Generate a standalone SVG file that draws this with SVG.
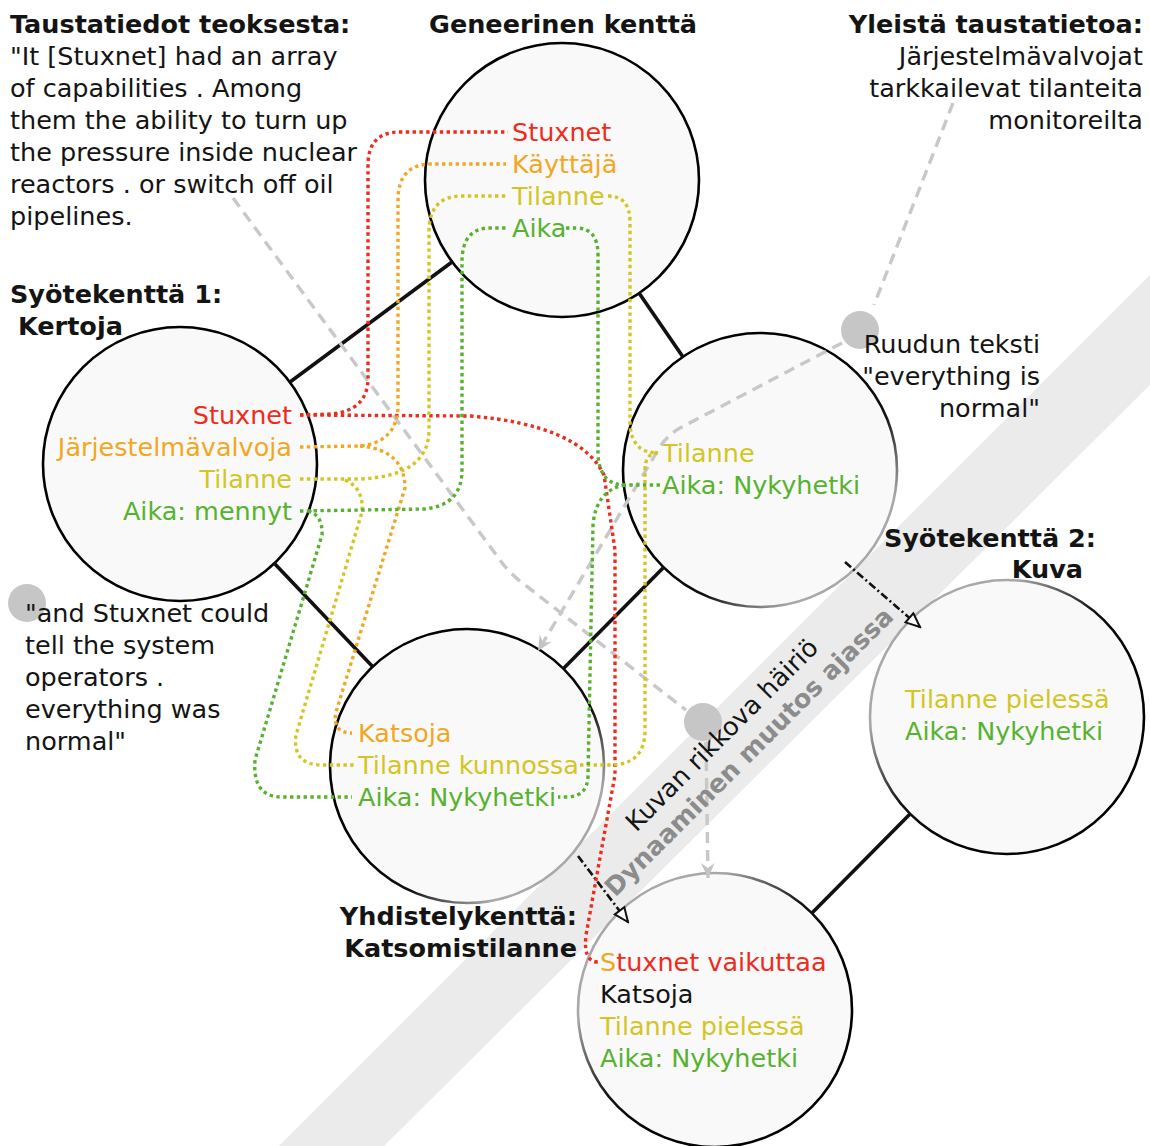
<svg xmlns="http://www.w3.org/2000/svg" width="1150" height="1146" viewBox="0 0 1150 1146">
  <defs>
    <style>
      text { font-family: "DejaVu Sans", "Liberation Sans", sans-serif; font-size: 25.5px; fill: #141414; }
      .b { font-weight: bold; }
      .end { text-anchor: end; }
      .red { fill: #ee2b1c; }
      .org { fill: #f2a723; }
      .yel { fill: #d3c624; }
      .grn { fill: #56b22f; }
      .field { fill: #f9f9f9; stroke: url(#edgeFade); stroke-width: 2.6; }
      .link { stroke: #111; stroke-width: 3.6; fill: none; }
      .dot { fill: none; stroke-width: 3.4; stroke-dasharray: 3.4 3.4; }
      .r { stroke: #ee2b1c; }
      .o { stroke: #f2a723; }
      .y { stroke: #d3c624; }
      .g { stroke: #56b22f; }
      .hint { fill: none; stroke: #c8c8c8; stroke-width: 3.4; stroke-dasharray: 11 7; }
      .spot { fill: #c6c6c6; }
      .shift { fill: none; stroke: #111; stroke-width: 2.6; stroke-dasharray: 8 3 2 3; }
    </style>
    <!-- circle outlines fade out near the diagonal band -->
    <linearGradient id="edgeFade" gradientUnits="userSpaceOnUse" x1="600" y1="600" x2="900" y2="900">
      <stop offset="0" stop-color="#000"/>
      <stop offset="0.17" stop-color="#111"/>
      <stop offset="0.32" stop-color="#a8a8a8"/>
      <stop offset="0.66" stop-color="#a8a8a8"/>
      <stop offset="0.84" stop-color="#111"/>
      <stop offset="1" stop-color="#000"/>
    </linearGradient>
    <marker id="grayHead" viewBox="-16 -8 18 16" markerWidth="18" markerHeight="16" refX="0" refY="0" orient="auto" markerUnits="userSpaceOnUse">
      <path d="M0,0 L-15,-7 L-10,0 L-15,7 z" fill="#c4c4c4"/>
    </marker>
    <marker id="openHead" viewBox="-2 -8 18 16" markerWidth="18" markerHeight="16" refX="14" refY="0" orient="auto" markerUnits="userSpaceOnUse">
      <path d="M0,-6 L14,0 L0,6 z" fill="#fff" stroke="#111" stroke-width="2"/>
    </marker>
  </defs>

  <rect width="1150" height="1146" fill="#fff"/>

  <!-- diagonal band: dynamic change over time -->
  <g id="band">
    <polygon points="1150,275 1150,385 384,1146 279,1146" fill="#ebebeb"/>
  </g>

  <!-- nodes -->
  <g id="node-generic">
    <circle class="field" cx="562" cy="180" r="137"/>
    <text class="b" x="563" y="33" text-anchor="middle">Geneerinen kenttä</text>
    <text class="red" x="512" y="141">Stuxnet</text>
    <text class="org" x="512" y="173">Käyttäjä</text>
    <text class="yel" x="512" y="205">Tilanne</text>
    <text class="grn" x="512" y="237">Aika</text>
  </g>

  <g id="node-input1">
    <circle class="field" cx="180" cy="464" r="137"/>
    <text class="b" x="10" y="303">Syötekenttä 1:</text>
    <text class="b" x="18" y="335">Kertoja</text>
    <text class="red end" x="292" y="424">Stuxnet</text>
    <text class="org end" x="292" y="456">Järjestelmävalvoja</text>
    <text class="yel end" x="292" y="488">Tilanne</text>
    <text class="grn end" x="292" y="520">Aika: mennyt</text>
  </g>

  <g id="node-screen">
    <circle class="field" cx="760" cy="470" r="137"/>
    <text class="yel" x="662" y="462">Tilanne</text>
    <text class="grn" x="662" y="494">Aika: Nykyhetki</text>
  </g>

  <g id="node-viewer">
    <circle class="field" cx="467" cy="766" r="137"/>
    <text class="org" x="358" y="742">Katsoja</text>
    <text class="yel" x="358" y="774">Tilanne kunnossa</text>
    <text class="grn" x="358" y="806">Aika: Nykyhetki</text>
  </g>

  <g id="node-input2">
    <circle class="field" cx="1007" cy="717" r="137"/>
    <text class="b end" x="1096" y="547">Syötekenttä 2:</text>
    <text class="b end" x="1083" y="578">Kuva</text>
    <text class="yel" x="905" y="708">Tilanne pielessä</text>
    <text class="grn" x="905" y="740">Aika: Nykyhetki</text>
  </g>

  <g id="node-blend">
    <circle class="field" cx="715" cy="1010" r="137"/>
    <text class="b end" x="577" y="925">Yhdistelykenttä:</text>
    <text class="b end" x="577" y="957">Katsomistilanne</text>
    <text class="red" x="600" y="971"><tspan class="org">S</tspan>tuxnet vaikuttaa</text>
    <text x="600" y="1003">Katsoja</text>
    <text class="yel" x="600" y="1035">Tilanne pielessä</text>
    <text class="grn" x="600" y="1067">Aika: Nykyhetki</text>
  </g>

  <!-- connectors -->
  <g id="connectors">
    <!-- structural links between fields -->
    <line class="link" x1="290" y1="382" x2="452" y2="262"/>
    <line class="link" x1="639" y1="293" x2="683" y2="357"/>
    <line class="link" x1="274" y1="563" x2="373" y2="667"/>
    <line class="link" x1="664" y1="567" x2="563" y2="669"/>
    <line class="link" x1="910" y1="814" x2="812" y2="913"/>

    <!-- projections into the blend -->
    <path class="shift" d="M845 562 L920 627" marker-end="url(#openHead)"/>
    <path class="shift" d="M578 856 L628 922" marker-end="url(#openHead)"/>

    <!-- background hints -->
    <circle class="spot" cx="860" cy="330" r="19"/>
    <circle class="spot" cx="703" cy="722" r="19"/>
    <circle class="spot" cx="27" cy="603" r="19"/>
    <path class="hint" d="M233 198 L500 560 Q510 574 525 585 L686 710"/>
    <path class="hint" d="M706 742 L708 878" marker-end="url(#grayHead)"/>
    <path class="hint" d="M953 103 L874 305"/>
    <path class="hint" d="M842 343 L680 428 Q665 436 655 455 L538 651" marker-end="url(#grayHead)"/>

    <!-- mappings: Stuxnet -->
    <path class="dot r" d="M300 415 L332 414 Q368 410 368 378 L368 165 Q368 132 400 132 L508 132"/>
    <path class="dot r" d="M300 415 L470 416 Q580 425 604 475 L615 550 L615 775 L586 935 Q583 962 598 962"/>
    <!-- mappings: user / viewer -->
    <path class="dot o" d="M300 447 L360 446 Q398 442 398 405 L398 200 Q398 164 432 164 L506 164"/>
    <path class="dot o" d="M360 446 Q405 450 405 488 L336 712 Q332 733 352 733"/>
    <!-- mappings: situation -->
    <path class="dot y" d="M300 479 L360 479 Q429 476 429 430 L429 232 Q429 196 462 196 L506 196"/>
    <path class="dot y" d="M608 196 Q630 196 630 222 L630 425 Q632 453 658 453"/>
    <path class="dot y" d="M345 480 Q364 488 362 512 L296 735 Q292 765 322 765 L354 765"/>
    <path class="dot y" d="M580 765 L610 765 Q645 765 645 730 L645 470 Q645 453 658 453"/>
    <!-- mappings: time -->
    <path class="dot g" d="M300 511 L425 509 Q462 505 462 470 L462 262 Q462 228 490 228 L508 228"/>
    <path class="dot g" d="M566 228 L576 228 Q598 228 598 255 L598 455 Q600 485 625 485 L660 485"/>
    <path class="dot g" d="M625 485 Q596 490 593 525 L588 775 Q588 797 566 797 L558 797"/>
    <path class="dot g" d="M308 511 Q323 515 322 535 L255 760 Q252 797 282 797 L352 797"/>
  </g>

  <!-- free-standing notes -->
  <g id="note-source">
    <text class="b" x="10" y="33">Taustatiedot teoksesta:</text>
    <text x="10" y="65">"It [Stuxnet] had an array</text>
    <text x="10" y="97">of capabilities . Among</text>
    <text x="10" y="129">them the ability to turn up</text>
    <text x="10" y="161">the pressure inside nuclear</text>
    <text x="10" y="193">reactors . or switch off oil</text>
    <text x="10" y="225">pipelines.</text>
  </g>

  <g id="note-general">
    <text class="b end" x="1143" y="33">Yleistä taustatietoa:</text>
    <text class="end" x="1143" y="65">Järjestelmävalvojat</text>
    <text class="end" x="1143" y="97">tarkkailevat tilanteita</text>
    <text class="end" x="1143" y="129">monitoreilta</text>
  </g>

  <g id="note-screen-text">
    <text class="end" x="1040" y="353">Ruudun teksti</text>
    <text class="end" x="1040" y="385">"everything is</text>
    <text class="end" x="1040" y="417">normal"</text>
  </g>

  <g id="note-quote">
    <text x="25" y="622">"and Stuxnet could</text>
    <text x="25" y="654">tell the system</text>
    <text x="25" y="686">operators .</text>
    <text x="25" y="718">everything was</text>
    <text x="25" y="750">normal"</text>
  </g>

  <g id="band-labels">
    <text transform="translate(728,741) rotate(-45)" text-anchor="middle">Kuvan rikkova häiriö</text>
    <text class="b" transform="translate(755,758) rotate(-45)" text-anchor="middle" style="fill:#8c8c8c">Dynaaminen muutos ajassa</text>
  </g>
</svg>
